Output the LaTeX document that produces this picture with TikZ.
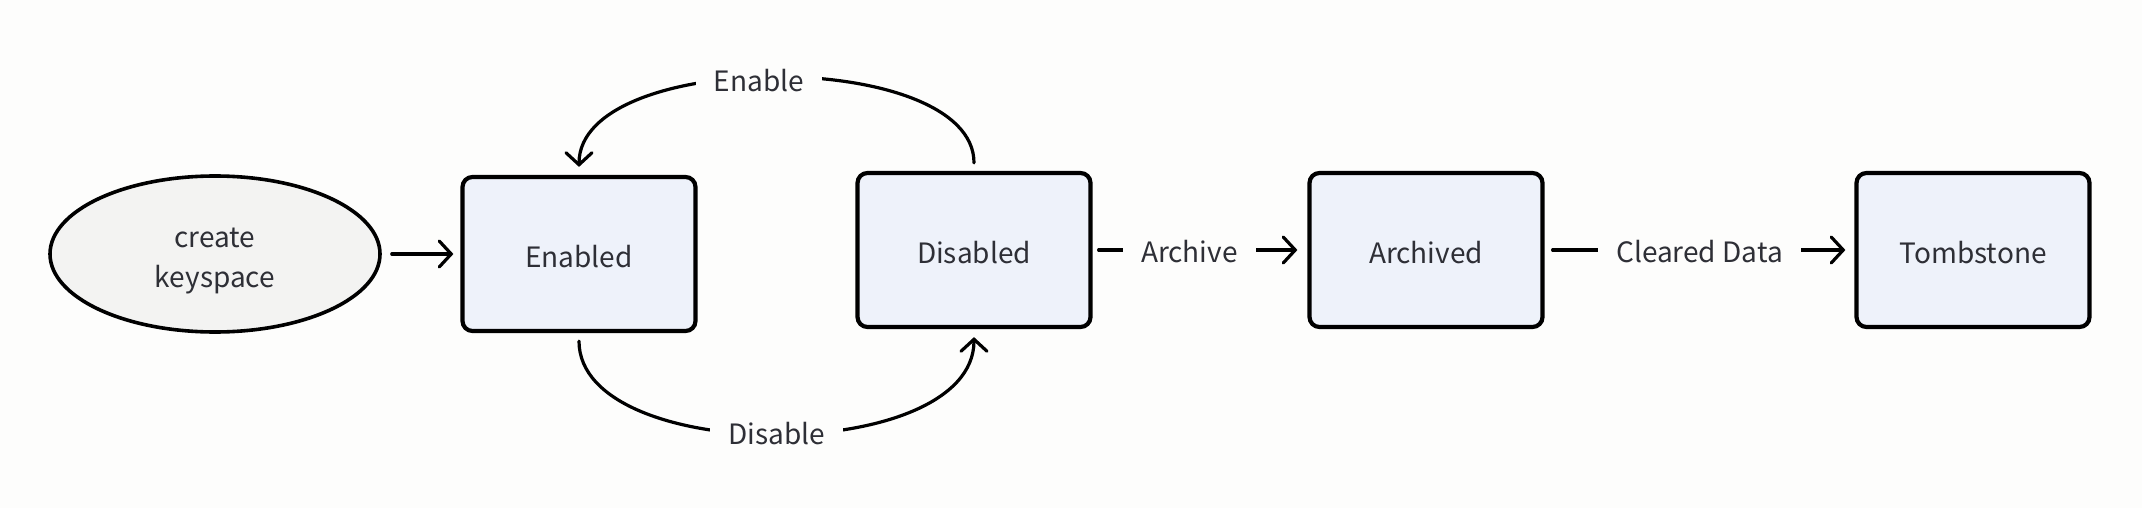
\documentclass[tikz,border=0pt]{standalone}
\usepackage{fontspec}
\setmainfont{Noto Sans CJK SC}
\usetikzlibrary{shapes.geometric,arrows.meta}
\definecolor{bg}{HTML}{FDFDFC}
\definecolor{boxfill}{HTML}{EEF2FA}
\definecolor{ellfill}{HTML}{F3F3F2}
\definecolor{txt}{HTML}{2E2F36}
\tikzset{
  statebox/.style={draw=black, line width=2.1pt, fill=boxfill, rounded corners=5pt,
    minimum width=116.5pt, minimum height=77pt, inner sep=0pt, text=txt,
    text height=13.2pt, text depth=0pt,
    font=\fontsize{14pt}{20pt}\selectfont},
  startell/.style={draw=black, line width=1.8pt, fill=ellfill, ellipse,
    minimum width=165pt, minimum height=78pt, inner sep=0pt, text=txt, align=center,
    font=\fontsize{14pt}{20pt}\selectfont},
  arr/.style={line width=1.6pt, line cap=round, -{Straight Barb[length=6pt,width=13pt,line cap=round]}},
  lbl/.style={fill=bg, text=txt, inner xsep=9pt, inner ysep=3pt,
    text height=12pt, text depth=0pt,
    font=\fontsize{14pt}{20pt}\selectfont}
}
\begin{document}
\begin{tikzpicture}[x=0.5pt,y=-0.5pt]
\useasboundingbox (0,0) rectangle (2142,508);
\fill[bg] (0,0) rectangle (2142,508);
\node[startell] (ks) at (215,254) {\rule{0pt}{17pt}create\\keyspace};
\node[statebox] (en) at (579,254) {Enabled};
\node[statebox] (dis) at (974,250) {Disabled};
\node[statebox] (arc) at (1426,250) {Archived};
\node[statebox] (tomb) at (1973,250) {Tombstone};
\draw[arr, shorten <=5pt, shorten >=3.5pt] (ks.east) -- (en.west |- ks.east);
\draw[arr, shorten <=3pt, shorten >=5pt] (dis.east) -- node[lbl, pos=0.45] {Archive} (arc.west);
\draw[arr, shorten <=4pt, shorten >=4.5pt] (arc.east) -- node[lbl] {Cleared Data} (tomb.west);
\draw[arr, shorten <=4pt, shorten >=4pt] (dis.north) .. controls +(0,-123) and +(0,-127) .. node[lbl, pos=0.53] {Enable} (en.north);
\draw[arr, shorten <=4pt, shorten >=4pt] (en.south) .. controls +(0,133) and +(0,137) .. node[lbl, pos=0.5] {Disable} (dis.south);
\end{tikzpicture}
\end{document}
